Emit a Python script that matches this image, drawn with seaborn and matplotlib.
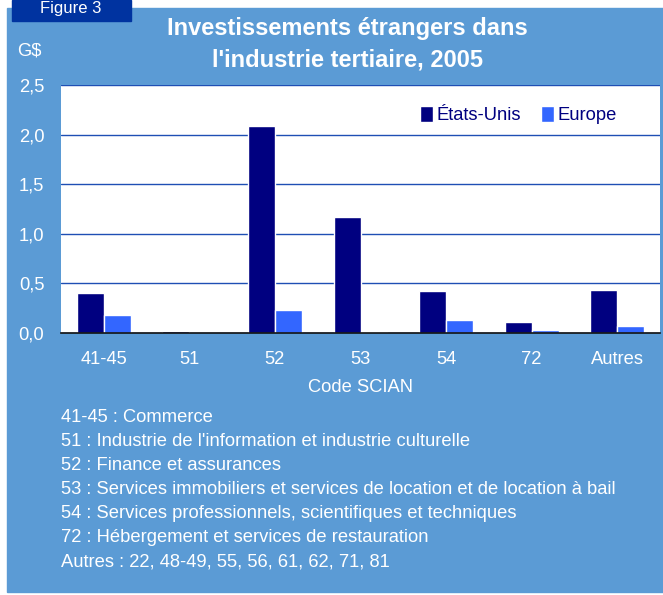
import pandas as pd
import seaborn as sns
import matplotlib.pyplot as plt
from matplotlib.patches import Rectangle

# values (G$)
codes = ["41-45", "51", "52", "53", "54", "72", "Autres"]
etats_unis = [0.40, 0.02, 2.09, 1.17, 0.42, 0.11, 0.43]
europe = [0.18, 0.003, 0.23, 0.01, 0.13, 0.03, 0.07]
series = ["États-Unis", "Europe"]
notes = [
    "41-45 : Commerce",
    "51 : Industrie de l'information et industrie culturelle",
    "52 : Finance et assurances",
    "53 : Services immobiliers et services de location et de location à bail",
    "54 : Services professionnels, scientifiques et techniques",
    "72 : Hébergement et services de restauration",
    "Autres : 22, 48-49, 55, 56, 61, 62, 71, 81",
]

data = pd.DataFrame({
    "Code": codes * 2,
    "Valeur": etats_unis + europe,
    "Origine": [series[0]] * len(codes) + [series[1]] * len(codes),
})

sns.set_style("white")
plt.rcParams["font.family"] = ["Liberation Sans", "DejaVu Sans"]

panel = "#5B9BD5"
fs = 13.2
fig = plt.figure(figsize=(6.63, 5.95), dpi=100)
fig.patch.set_facecolor("white")

# blue panel and "Figure 3" tab (behind the axes)
fig.patches.append(Rectangle((7 / 663, 3 / 595), 656 / 663, 584 / 595,
                             transform=fig.transFigure, color=panel, zorder=-2))
fig.patches.append(Rectangle((12 / 663, 1 - 21 / 595), 119 / 663, 21 / 595,
                             transform=fig.transFigure, color="#0033A0", zorder=-1))
fig.text(71 / 663, 1 - 9 / 595, "Figure 3", color="white", fontsize=12,
         ha="center", va="center")

ax = fig.add_axes([61 / 663, 1 - 333 / 595, 599 / 663, 248 / 595])
sns.barplot(data=data, x="Code", y="Valeur", hue="Origine", ax=ax,
            palette=["#000080", "#3366FF"], width=0.63, saturation=1)

ax.set_facecolor("white")
ax.set_ylim(0, 2.5)
ax.set_yticks([0, 0.5, 1.0, 1.5, 2.0, 2.5])
ax.set_yticklabels(["0,0", "0,5", "1,0", "1,5", "2,0", "2,5"])
ax.yaxis.grid(True, color="#1F4FB4", linewidth=1)
ax.set_axisbelow(True)
for s in ["left", "right", "top"]:
    ax.spines[s].set_visible(False)
ax.spines["bottom"].set_color("#111111")
ax.spines["bottom"].set_linewidth(1.2)
ax.tick_params(axis="both", colors="white", labelsize=fs, length=0, pad=12)
ax.tick_params(axis="x", pad=13)
ax.set_xlabel("Code SCIAN", color="white", fontsize=fs, labelpad=8)
ax.set_ylabel("")

leg = ax.legend(loc="upper right", bbox_to_anchor=(0.955, 0.98), ncol=2, frameon=False,
                fontsize=fs, handlelength=0.75, handleheight=0.9,
                handletextpad=0.15, columnspacing=1.1)
for t in leg.get_texts():
    t.set_color("#000080")

fig.text(347 / 663, 1 - 28 / 595, "Investissements étrangers dans", color="white",
         fontsize=17, fontweight="bold", ha="center", va="center")
fig.text(347 / 663, 1 - 60 / 595, "l'industrie tertiaire, 2005", color="white",
         fontsize=17, fontweight="bold", ha="center", va="center")
fig.text(17 / 663, 1 - 51 / 595, "G$", color="white", fontsize=fs, va="center")

for i, line in enumerate(notes):
    fig.text(61 / 663, 1 - (417 + i * 24.2) / 595, line, color="white",
             fontsize=fs, va="center")

fig.savefig("out.png", dpi=100)
